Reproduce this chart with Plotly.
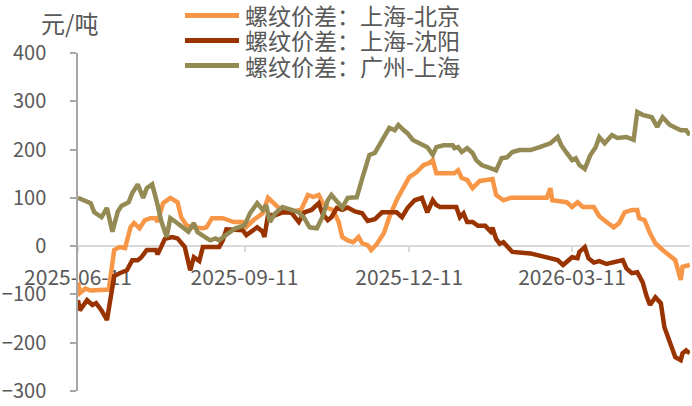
import plotly.graph_objects as go

# ---------------- data ----------------
orange_name = "螺纹价差：上海-北京"
orange_dates = ["2025-06-11","2025-06-12","2025-06-15","2025-06-18","2025-06-28","2025-06-30","2025-07-01","2025-07-04","2025-07-07","2025-07-10",
                "2025-07-12","2025-07-15","2025-07-18","2025-07-21","2025-07-24","2025-07-25","2025-07-28","2025-08-01","2025-08-05","2025-08-07",
                "2025-08-10","2025-08-13","2025-08-19","2025-08-21","2025-08-24","2025-08-30","2025-09-05","2025-09-10","2025-09-12","2025-09-16",
                "2025-09-21","2025-09-24","2025-09-28","2025-10-02","2025-10-07","2025-10-12","2025-10-13","2025-10-16","2025-10-19","2025-10-22",
                "2025-10-24","2025-10-27","2025-10-30","2025-11-02","2025-11-04","2025-11-07","2025-11-10","2025-11-13","2025-11-15","2025-11-18",
                "2025-11-20","2025-11-23","2025-11-27","2025-11-30","2025-12-04","2025-12-08","2025-12-11","2025-12-15","2025-12-19","2025-12-22",
                "2025-12-24","2025-12-26","2026-01-05","2026-01-07","2026-01-09","2026-01-12","2026-01-15","2026-01-19","2026-01-23","2026-01-26",
                "2026-01-28","2026-02-01","2026-02-05","2026-02-25","2026-02-27","2026-02-28","2026-03-08","2026-03-11","2026-03-14","2026-03-17",
                "2026-03-23","2026-03-26","2026-03-30","2026-04-03","2026-04-06","2026-04-09","2026-04-13","2026-04-16","2026-04-17","2026-04-20",
                "2026-04-23","2026-04-26","2026-04-30","2026-05-04","2026-05-07","2026-05-10","2026-05-11","2026-05-15"]
orange_vals = [-75,-97,-88,-92,-90,-29,-8,-2,-4,39,
               48,37,54,58,58,50,89,100,91,60,
               43,39,37,39,58,58,50,50,40,54,
               68,100,85,72,72,75,81,106,102,106,
               91,79,75,50,19,12,8,19,6,2,
               -8,4,27,60,95,122,143,153,168,172,
               178,151,151,157,141,137,120,135,137,139,
               106,95,100,100,120,95,91,81,91,81,
               81,62,50,39,48,70,75,75,58,54,
               27,6,-8,-19,-29,-70,-43,-39]

dark_name = "螺纹价差：上海-沈阳"
dark_dates = ["2025-06-11","2025-06-12","2025-06-16","2025-06-19","2025-06-21","2025-06-24","2025-06-27","2025-06-29","2025-07-01","2025-07-04",
              "2025-07-08","2025-07-11","2025-07-14","2025-07-16","2025-07-19","2025-07-24","2025-07-25","2025-07-29","2025-08-02","2025-08-05",
              "2025-08-09","2025-08-12","2025-08-14","2025-08-17","2025-08-19","2025-08-28","2025-08-30","2025-09-01","2025-09-10","2025-09-12",
              "2025-09-15","2025-09-18","2025-09-21","2025-09-22","2025-09-24","2025-09-28","2025-10-02","2025-10-07","2025-10-11","2025-10-14",
              "2025-10-18","2025-10-22","2025-10-24","2025-10-27","2025-10-29","2025-11-01","2025-11-04","2025-11-07","2025-11-11","2025-11-15",
              "2025-11-18","2025-11-22","2025-11-26","2025-12-04","2025-12-07","2025-12-10","2025-12-14","2025-12-18","2025-12-21","2025-12-24",
              "2025-12-26","2025-12-28","2026-01-06","2026-01-08","2026-01-10","2026-01-12","2026-01-15","2026-01-18","2026-01-22","2026-01-25",
              "2026-01-26","2026-01-28","2026-01-30","2026-02-01","2026-02-05","2026-02-06","2026-02-16","2026-02-25","2026-03-03","2026-03-06",
              "2026-03-09","2026-03-11","2026-03-14","2026-03-15","2026-03-18","2026-03-20","2026-03-23","2026-03-26","2026-03-30","2026-04-02",
              "2026-04-05","2026-04-08","2026-04-10","2026-04-13","2026-04-16","2026-04-19","2026-04-21","2026-04-23","2026-04-26","2026-04-29",
              "2026-05-01","2026-05-04","2026-05-07","2026-05-10","2026-05-11","2026-05-13","2026-05-15"]
dark_vals = [-112,-133,-112,-122,-118,-133,-153,-112,-62,-56,
             -50,-29,-29,-23,-8,-8,-17,15,19,16,
             -2,-50,-23,-31,-2,-2,12,35,33,23,
             31,39,30,19,65,64,70,69,50,70,
             75,89,68,54,60,79,75,80,72,68,
             52,56,70,70,60,79,95,100,70,95,
             85,81,81,60,68,50,50,42,42,30,
             38,15,5,8,-8,-12,-15,-23,-29,-39,
             -29,-23,-25,-12,-2,-25,-34,-31,-37,-35,
             -33,-29,-46,-56,-54,-75,-102,-122,-106,-118,
             -168,-199,-230,-236,-222,-216,-222]

olive_name = "螺纹价差：广州-上海"
olive_dates = ["2025-06-11","2025-06-15","2025-06-18","2025-06-20","2025-06-22","2025-06-24","2025-06-27","2025-06-30","2025-07-03","2025-07-05",
               "2025-07-09","2025-07-11","2025-07-14","2025-07-17","2025-07-19","2025-07-22","2025-07-25","2025-07-27","2025-07-30","2025-08-01",
               "2025-08-04","2025-08-07","2025-08-11","2025-08-14","2025-08-16","2025-08-20","2025-08-23","2025-08-26","2025-08-28","2025-08-31",
               "2025-09-03","2025-09-06","2025-09-11","2025-09-14","2025-09-18","2025-09-21","2025-09-23","2025-09-25","2025-09-28","2025-10-02",
               "2025-10-07","2025-10-11","2025-10-14","2025-10-17","2025-10-21","2025-10-24","2025-10-27","2025-10-29","2025-11-01","2025-11-04",
               "2025-11-07","2025-11-12","2025-11-15","2025-11-17","2025-11-19","2025-11-22","2025-11-25","2025-11-28","2025-11-30","2025-12-03",
               "2025-12-05","2025-12-08","2025-12-10","2025-12-13","2025-12-15","2025-12-18","2025-12-21","2025-12-24","2025-12-26","2025-12-30",
               "2026-01-04","2026-01-05","2026-01-07","2026-01-09","2026-01-12","2026-01-15","2026-01-17","2026-01-20","2026-01-23","2026-01-26",
               "2026-01-28","2026-01-31","2026-02-03","2026-02-06","2026-02-10","2026-02-16","2026-02-21","2026-02-27","2026-03-03","2026-03-05",
               "2026-03-08","2026-03-11","2026-03-13","2026-03-15","2026-03-18","2026-03-21","2026-03-24","2026-03-26","2026-03-29","2026-04-02",
               "2026-04-05","2026-04-10","2026-04-14","2026-04-16","2026-04-19","2026-04-24","2026-04-27","2026-04-30","2026-05-04","2026-05-07",
               "2026-05-10","2026-05-13","2026-05-15"]
olive_vals = [100,95,89,70,64,60,79,30,72,83,
              91,110,128,100,120,128,85,52,19,58,
              50,42,30,48,29,19,12,16,12,21,
              29,37,43,68,89,75,85,50,68,81,
              75,70,58,39,37,60,95,106,93,80,
              100,101,140,165,189,193,213,230,245,240,
              251,240,234,220,216,209,205,189,205,209,
              209,203,205,195,203,193,178,168,165,160,
              157,182,184,195,199,199,205,213,226,209,
              193,178,182,168,160,188,205,226,213,230,
              224,226,220,278,272,267,247,267,251,245,
              240,240,230]

tick_dates = ["2025-06-11", "2025-09-11", "2025-12-11", "2026-03-11"]
tick_labels = ["2025-06-11", "2025-09-11", "2025-12-11", "2026-03-11"]
y_ticks = [-300, -200, -100, 0, 100, 200, 300, 400]
unit_label = "元/吨"

assert len(orange_dates) == len(orange_vals)
assert len(dark_dates) == len(dark_vals)
assert len(olive_dates) == len(olive_vals)

# ---------------- figure ----------------
FONT = "Noto Sans CJK SC"
TXT = "#595959"
W, H = 692, 406
ML, MR, MT, MB = 78, 2, 53, 15
ymin, ymax = -300, 400
pw = W - ML - MR
ph = H - MT - MB


def px_x(px):
    return (px - ML) / pw


def px_y(py):
    return (H - MB - py) / ph


fig = go.Figure()
series = [
    (orange_name, orange_dates, orange_vals, "#F79646"),
    (dark_name, dark_dates, dark_vals, "#993300"),
    (olive_name, olive_dates, olive_vals, "#948A54"),
]
for name, xs, ys, col in series:
    fig.add_trace(go.Scatter(x=xs, y=ys, name=name, mode="lines",
                             line=dict(color=col, width=4.5),
                             showlegend=False, hoverinfo="x+y+name"))

# legend drawn as line samples + text in the top margin
row_y = [15.5, 40.5, 65.5]
for (name, _, _, col), ry in zip(series, row_y):
    fig.add_shape(type="line", xref="paper", yref="paper",
                  x0=px_x(185), x1=px_x(239), y0=px_y(ry), y1=px_y(ry),
                  line=dict(color=col, width=5), layer="above")
    fig.add_annotation(text=name, xref="paper", yref="paper",
                       x=px_x(243), y=px_y(ry), xanchor="left", yanchor="middle",
                       height=24, valign="middle",
                       showarrow=False, font=dict(size=23, color=TXT, family=FONT))

zero_pos = (0 - ymin) / (ymax - ymin)

fig.update_layout(
    width=W, height=H,
    margin=dict(l=ML, r=MR, t=MT, b=MB, pad=0, autoexpand=False),
    paper_bgcolor="white", plot_bgcolor="white",
    font=dict(family=FONT, color=TXT, size=20),
    showlegend=False,
    xaxis=dict(type="date", range=["2025-06-11", "2026-05-15 03:00"],
               anchor="free", position=zero_pos,
               showline=True, linecolor="#D9D9D9", linewidth=1.5,
               showgrid=False, zeroline=False,
               ticks="outside", ticklen=5, tickcolor="#D9D9D9", tickwidth=1.5,
               tickmode="array", tickvals=tick_dates, ticktext=tick_labels,
               tickfont=dict(size=21, color=TXT, family=FONT),
               ticklabelstandoff=8, layer="below traces"),
    yaxis=dict(range=[ymin, ymax], tickmode="array", tickvals=y_ticks,
               showline=True, linecolor="#A6A6A6", linewidth=1.5,
               showgrid=False, zeroline=False,
               ticks="outside", ticklen=6, tickcolor="#A6A6A6", tickwidth=1.5,
               tickfont=dict(size=20, color=TXT, family=FONT),
               ticklabelstandoff=20),
)

fig.add_annotation(text=unit_label, xref="paper", yref="paper",
                   x=px_x(69), y=px_y(23),
                   xanchor="center", yanchor="middle", showarrow=False,
                   font=dict(size=24, color=TXT, family=FONT))

fig.write_html("out.html",
               config={"displayModeBar": False},
               post_script="document.body.style.margin='0';document.body.style.overflow='hidden';")
